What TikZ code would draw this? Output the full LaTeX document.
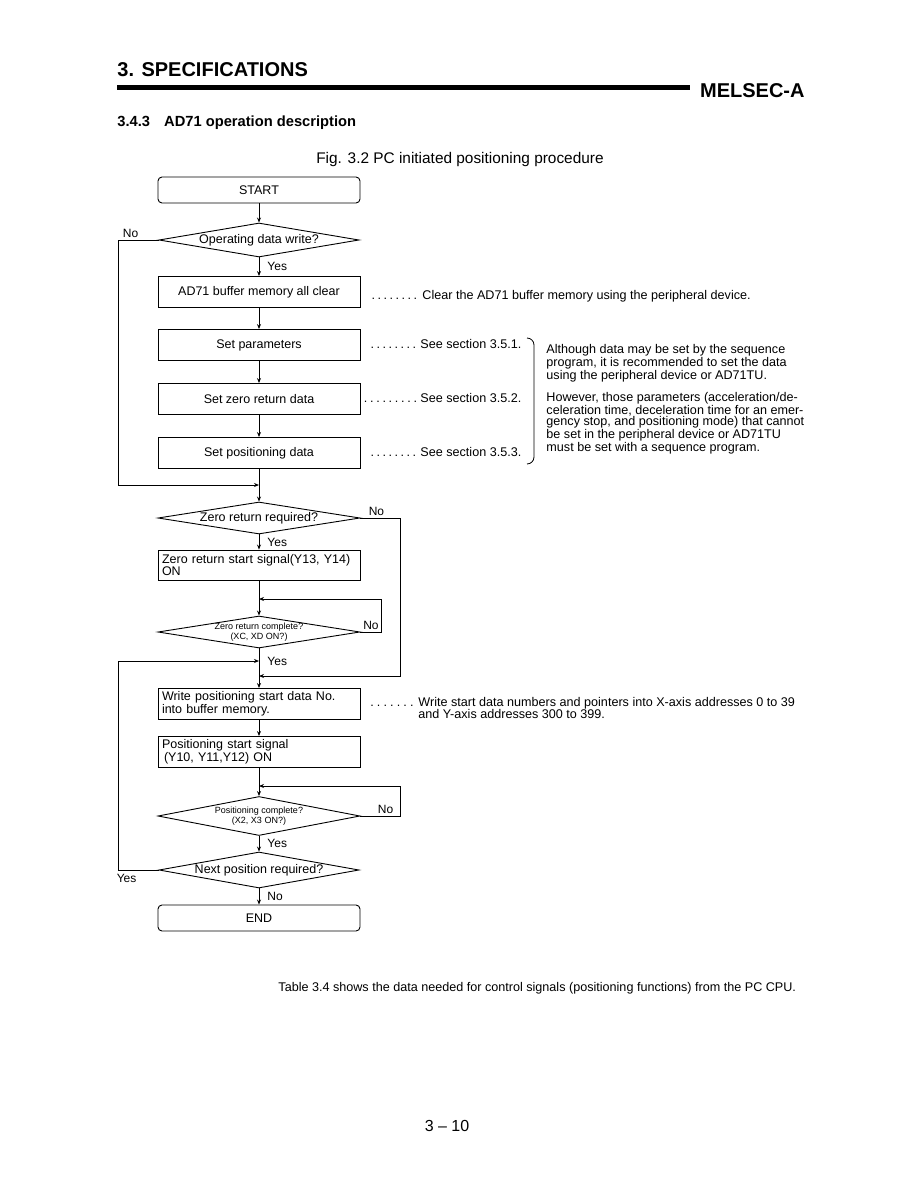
\documentclass[tikz,border=0pt]{standalone}
\usepackage{fontspec}
\setmainfont{Liberation Sans}
\usetikzlibrary{arrows.meta, shapes.geometric}
\newcommand{\dotlead}[1]{\hbox to #1{\xleaders\hbox to 6pt{\hss.\hss}\hfil}}

\begin{document}
\begin{tikzpicture}[>=Stealth, x=1pt, y=-1pt, line width=0.9pt,
    txt/.style={font=\fontsize{12.6}{11.6}\selectfont, inner sep=0pt},
    proc/.style={draw, rectangle, minimum width=202pt, minimum height=31pt, font=\fontsize{12.5}{11.5}\selectfont},
    procl/.style={proc, align=left, text width=194pt, inner xsep=4pt},
    term/.style={proc, rounded corners=4pt, minimum height=26pt},
    decision/.style={draw, diamond, inner sep=0pt, minimum width=202pt, minimum height=34pt},
    qtext/.style={font=\fontsize{12.5}{12}\selectfont},
    qsmall/.style={font=\fontsize{9}{10}\selectfont, align=center},
    flow/.style={->, >={Stealth[length=5pt,width=4pt]}},
    lbl/.style={font=\fontsize{12}{12}\selectfont, inner sep=2pt}]

    \useasboundingbox (0,0) rectangle (918,1188);

    % Header
    \node[font=\bfseries\fontsize{20}{20}\selectfont, anchor=west, inner sep=0pt] (title) at (117,70) {3. SPECIFICATIONS};
    \draw[line width=5pt] (117,88) -- (690,88);
    \node[font=\bfseries\fontsize{20}{20}\selectfont, anchor=east, inner sep=0pt] (brand) at (805,91) {MELSEC-A};
    \node[font=\bfseries\fontsize{14.7}{14.7}\selectfont, anchor=west, inner sep=0pt] (sect) at (117,123) {3.4.3\hspace{14pt}AD71 operation description};
    \node[font=\fontsize{15.4}{15.4}\selectfont, inner sep=0pt] (figcap) at (460,160) {Fig. 3.2 PC initiated positioning procedure};

    % Steps
    \node[term] (start) at (259,190) {START};
    \node[decision, minimum width=200pt, label={[qtext]center:{Operating data write?}}] (opwrite) at (259,240) {};
    \node[proc] (clear) at (259,292) {AD71 buffer memory all clear};
    \node[proc] (params) at (259,345) {Set parameters};
    \node[proc] (zerodata) at (259,399) {Set zero return data};
    \node[proc] (posdata) at (259,453) {Set positioning data};
    \node[decision, minimum height=32pt, label={[qtext]center:{Zero return required?}}] (zreq) at (259,518) {};
    \node[procl, minimum height=30pt] (zsig) at (259,565) {Zero return start signal(Y13, Y14)\\ON};
    \node[decision, minimum height=32pt, label={[qsmall]center:{Zero return complete?\\(XC, XD ON?)}}] (zdone) at (259,632) {};
    \node[procl, minimum height=28pt] (wrdata) at (259,704) {Write positioning start data No.\\into buffer memory.};
    \node[procl] (possig) at (259,752) {Positioning start signal\\\hspace*{2pt}(Y10, Y11,Y12) ON};
    \node[decision, minimum height=39pt, label={[qsmall]center:{Positioning complete?\\(X2, X3 ON?)}}] (posdone) at (259,816) {};
    \node[decision, minimum width=200pt, minimum height=36pt, label={[qtext]center:{Next position required?}}] (nextpos) at (259,870) {};
    \node[term] (finish) at (259,918) {END};

    % Notes
    \node[txt, anchor=west] (clearnote) at (370,296) {\dotlead{48pt}\hspace{4pt}Clear the AD71 buffer memory using the peripheral device.};
    \node[txt, anchor=west] (parnote) at (369,344) {\dotlead{48pt}\hspace{3pt}See section 3.5.1.};
    \node[txt, anchor=west] (zernote) at (362,398) {\dotlead{56pt}\hspace{2pt}See section 3.5.2.};
    \node[txt, anchor=west] (posnote) at (369,452) {\dotlead{48pt}\hspace{3pt}See section 3.5.3.};
    \node[txt, anchor=west, align=left] (wrnote) at (368,708) {\dotlead{47pt}\hspace{3pt}Write start data numbers and pointers into X-axis addresses 0 to 39\\\hspace*{50pt}and Y-axis addresses 300 to 399.};
    \draw[line width=0.8pt] (527,338) to[out=0,in=90] (534,345) -- (534,457) to[out=-90,in=0] (527,464);
    \node[txt, anchor=north west, align=left] (hint1) at (546,344) {Although data may be set by the sequence\\program, it is recommended to set the data\\using the peripheral device or AD71TU.};
    \node[txt, anchor=north west, align=left] (hint2) at (546,392) {However, those parameters (acceleration/de-\\celeration time, deceleration time for an emer-\\gency stop, and positioning mode) that cannot\\be set in the peripheral device or AD71TU\\must be set with a sequence program.};

    % Main flow
    \draw[flow] (start) -- (opwrite);
    \draw[flow] (opwrite) -- node[lbl, right, xshift=6pt] {Yes} (clear);
    \draw[flow] (clear) -- (params);
    \draw[flow] (params) -- (zerodata);
    \draw[flow] (zerodata) -- (posdata);
    \draw[flow] (posdata) -- (zreq);
    \draw[flow] (zreq) -- node[lbl, right, xshift=6pt] {Yes} (zsig);
    \draw[flow] (zsig) -- (zdone);
    \draw[flow] (zdone) -- node[lbl, right, xshift=6pt, pos=0.33] {Yes} (wrdata);
    \draw[flow] (wrdata) -- (possig);
    \draw[flow] (possig) -- (posdone);
    \draw[flow] (posdone) -- node[lbl, right, xshift=6pt] {Yes} (nextpos);
    \draw[flow] (nextpos) -- node[lbl, right, xshift=6pt] {No} (finish);

    % Loops
    \coordinate (j1) at (259,485);
    \coordinate (j2) at (259,599);
    \coordinate (j3) at (259,661);
    \coordinate (j4) at (259,676);
    \coordinate (j5) at (259,786);
    \draw[flow] (opwrite.west) -- node[lbl, above, pos=0.7] {No} ++(-40,0) |- (j1);
    \draw[flow] (zreq.east) -- node[lbl, above, pos=0.4] {No} ++(40,0) |- (j4);
    \draw[flow] (zdone.east) -- node[lbl, above] {No} ++(21,0) |- (j2);
    \draw[flow] (posdone.east) -- node[lbl, above, pos=0.63] {No} ++(40,0) |- (j5);
    \draw[flow] (nextpos.west) -- node[lbl, below, pos=0.8, yshift=-2pt] {Yes} ++(-40,0) |- (j3);

    % Footer
    \node[txt, anchor=west] (tabnote) at (278,988) {Table 3.4 shows the data needed for control signals (positioning functions) from the PC CPU.};
    \node[font=\fontsize{16}{16}\selectfont, inner sep=0pt] (pageno) at (447,1126) {3 -- 10};
\end{tikzpicture}
\end{document}
